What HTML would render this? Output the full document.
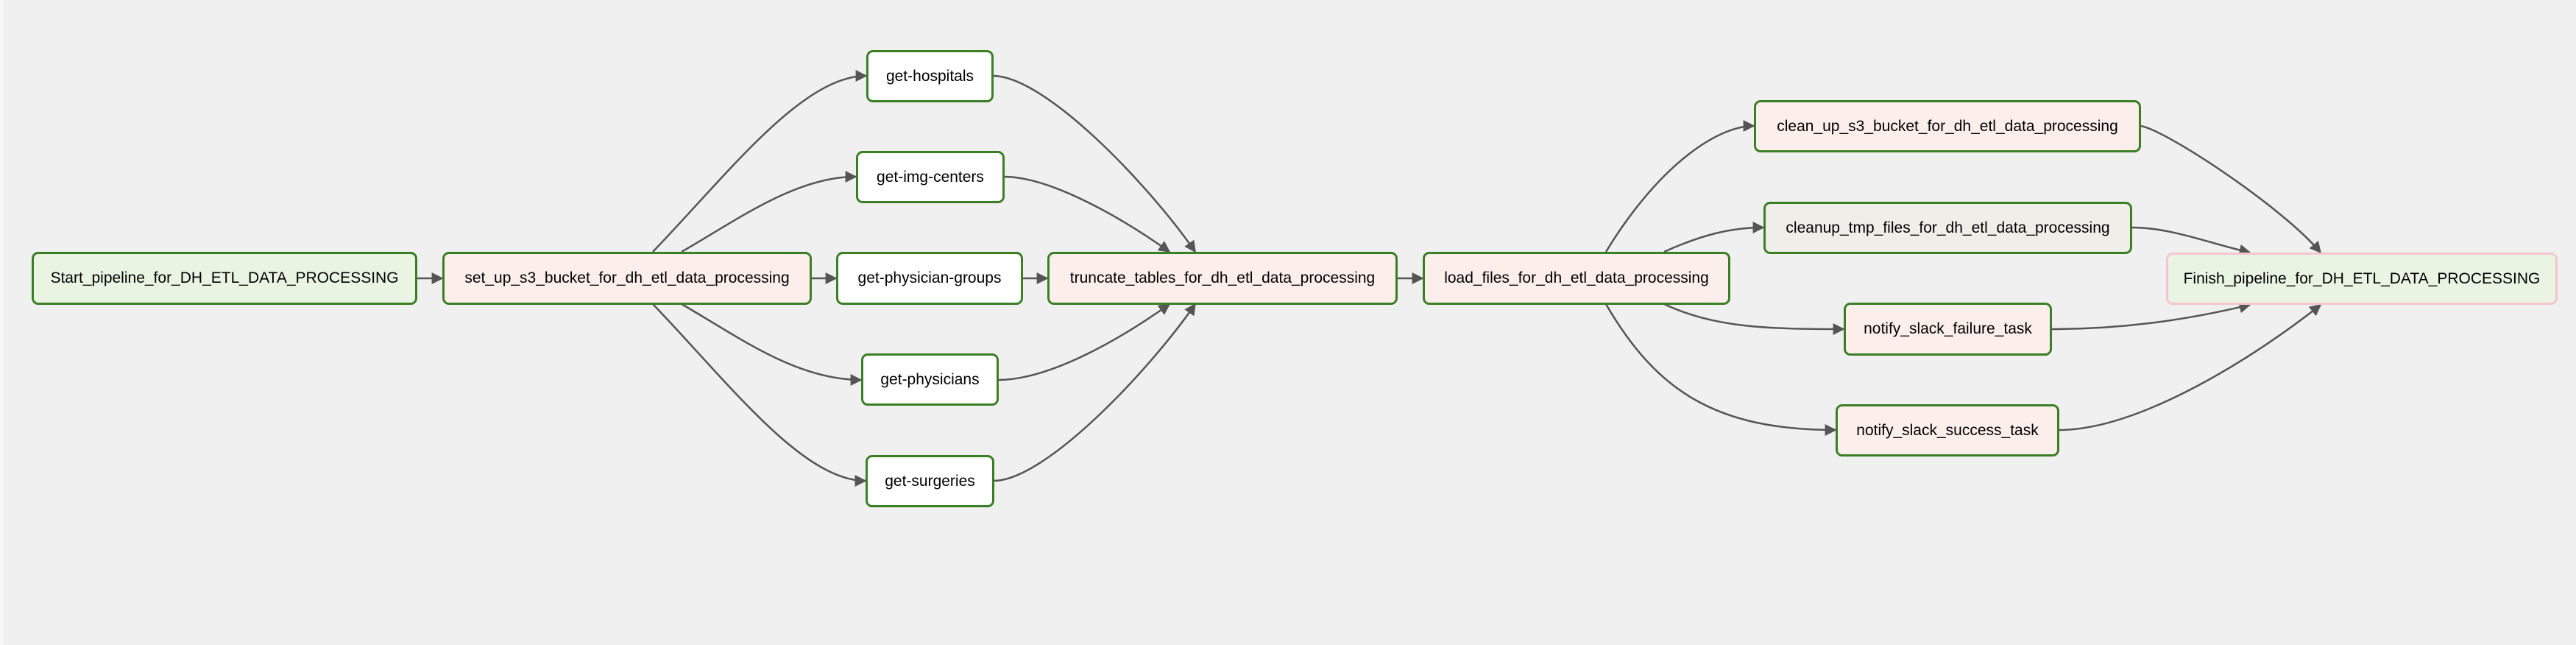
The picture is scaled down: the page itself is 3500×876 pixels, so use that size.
<!DOCTYPE html>
<html><head><meta charset="utf-8"><style>
html,body{margin:0;padding:0;}
body{width:3500px;height:876px;background:#f0f0f0;position:relative;overflow:hidden;font-family:"Liberation Sans",Arial,sans-serif;}
.n{position:absolute;box-sizing:border-box;border:3px solid #3b7f25;border-radius:9px;display:flex;align-items:center;justify-content:center;font-size:21px;color:#000;white-space:nowrap;}
.p{background:#fcefeb;}
.g{background:#e9f4e3;}
.w{background:#fff;}
svg{position:absolute;left:0;top:0;}
</style></head><body>
<div style="position:absolute;left:0;top:0;width:4px;height:876px;background:#f7f7f7"></div>
<svg width="3500" height="876" viewBox="0 0 3500 876">
<defs>
<marker id="b" viewBox="0 0 10 10" refX="9" refY="5" markerWidth="16" markerHeight="16" markerUnits="userSpaceOnUse" orient="auto"><path d="M0,0 L10,5 L0,10 z" fill="#555"/></marker></defs>
<g fill="none" stroke="#555" stroke-width="2.5" marker-end="url(#b)">
<path d="M566,378 L601,378"/>
<path d="M1102,378 L1136,378"/>
<path d="M1389,378 L1423,378"/>
<path d="M1898,378 L1933,378"/>
<path d="M887,342 C990,235 1090,103 1177,103"/>
<path d="M926,342 C1000,300 1080,240 1163,240"/>
<path d="M926,413 C1000,455 1080,516 1170,516"/>
<path d="M887,413 C990,520 1090,653 1176,653"/>
<path d="M1349,103 C1420,103 1560,250 1624,342"/>
<path d="M1364,240 C1430,240 1530,300 1589,342"/>
<path d="M1356,516 C1430,516 1530,455 1589,413"/>
<path d="M1350,653 C1420,653 1560,505 1624,413"/>
<path d="M2182,342 C2250,230 2330,171 2383,171"/>
<path d="M2261,342 C2310,320 2350,309 2396,309"/>
<path d="M2261,413 C2330,445 2400,447 2505,447"/>
<path d="M2182,413 C2250,530 2330,584 2494,584"/>
<path d="M2908,171 C2940,175 3100,280 3153,343"/>
<path d="M2896,309 C2950,309 3000,330 3057,343"/>
<path d="M2787,447 C2900,447 2990,430 3057,414"/>
<path d="M2797,584 C2910,584 3070,480 3153,414"/>
</g>
</svg>
<div class="n g" style="left:43px;top:342px;width:524px;height:72px">Start_pipeline_for_DH_ETL_DATA_PROCESSING</div>
<div class="n p" style="left:601px;top:342px;width:502px;height:72px">set_up_s3_bucket_for_dh_etl_data_processing</div>
<div class="n w" style="left:1177px;top:68px;width:173px;height:71px">get-hospitals</div>
<div class="n w" style="left:1163px;top:205px;width:202px;height:71px">get-img-centers</div>
<div class="n w" style="left:1136px;top:342px;width:254px;height:72px">get-physician-groups</div>
<div class="n w" style="left:1170px;top:480px;width:187px;height:71px">get-physicians</div>
<div class="n w" style="left:1176px;top:618px;width:175px;height:71px">get-surgeries</div>
<div class="n p" style="left:1423px;top:342px;width:476px;height:72px">truncate_tables_for_dh_etl_data_processing</div>
<div class="n p" style="left:1933px;top:342px;width:418px;height:72px">load_files_for_dh_etl_data_processing</div>
<div class="n p" style="left:2383px;top:136px;width:526px;height:71px">clean_up_s3_bucket_for_dh_etl_data_processing</div>
<div class="n" style="background:#f0eee8;left:2396px;top:274px;width:501px;height:71px">cleanup_tmp_files_for_dh_etl_data_processing</div>
<div class="n p" style="left:2505px;top:411px;width:283px;height:72px">notify_slack_failure_task</div>
<div class="n p" style="left:2494px;top:549px;width:304px;height:71px">notify_slack_success_task</div>
<div class="n g" style="border-color:#f5c6cc;left:2943px;top:343px;width:532px;height:71px">Finish_pipeline_for_DH_ETL_DATA_PROCESSING</div>
</body></html>
